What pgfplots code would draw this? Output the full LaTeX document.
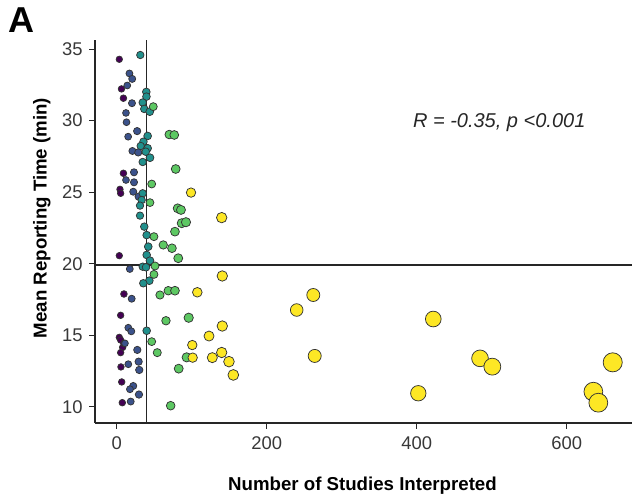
\documentclass[border=0pt]{standalone}
\usepackage{fontspec}
\setmainfont{Liberation Sans}
\usepackage{pgfplots}
\usepackage{pgfplotstable}
\pgfplotsset{compat=1.18}
\definecolor{vpurple}{HTML}{440154}
\definecolor{vblue}{HTML}{3B528B}
\definecolor{vteal}{HTML}{21908C}
\definecolor{vgreen}{HTML}{5DC863}
\definecolor{vyellow}{HTML}{FDE725}

% points grouped by colour class
\pgfplotstableread{
x y
3.5 34.29
6.4 32.22
9.0 31.57
9.0 26.32
4.4 25.20
5.3 24.92
3.5 20.56
9.7 17.88
5.3 16.39
3.5 14.85
5.3 14.66
8.0 14.15
5.3 13.78
9.7 14.43
5.7 12.78
6.7 11.73
7.5 10.28
}\purpletab
\pgfplotstableread{
x y
17.0 33.30
20.7 32.92
14.1 32.46
20.4 31.22
12.4 30.54
13.1 29.89
27.3 29.27
15.3 28.88
21.0 27.88
28.8 27.78
23.1 26.39
12.4 25.85
23.1 25.69
22.1 25.03
29.3 24.69
17.5 19.63
20.0 17.55
15.5 15.52
19.5 15.27
11.1 14.43
27.5 13.97
29.3 13.15
30.1 12.57
15.5 12.97
22.1 11.45
17.7 11.22
29.7 10.85
18.7 10.36
}\bluetab
\pgfplotstableread{
x y
31.5 34.59
39.5 32.01
39.7 31.68
34.7 31.27
36.8 30.82
44.1 30.63
41.3 28.93
35.7 28.53
32.0 28.23
41.3 28.07
38.7 27.83
44.4 27.41
34.7 27.11
34.7 24.92
33.3 24.45
31.1 24.06
31.1 23.36
36.8 22.59
40.0 22.00
42.1 21.19
40.0 20.61
44.4 20.21
34.7 19.79
39.1 19.75
43.5 18.81
35.5 18.63
40.0 15.31
}\tealtab
\pgfplotstableread{
x y
48.8 30.98
70.1 29.03
76.8 29.00
78.7 26.62
46.7 25.57
44.4 24.27
81.3 23.87
85.7 23.76
86.7 22.83
92.4 22.90
77.7 22.24
49.7 21.89
62.1 21.31
73.7 21.08
82.1 20.38
51.1 19.84
49.7 19.25
57.7 17.81
68.8 18.11
77.7 18.11
65.7 16.01
96.0 16.22
46.7 14.55
54.1 13.78
93.3 13.45
82.7 12.66
72.0 10.07
}\greentab
\pgfplotstableread{
x y
99.1 24.97
140.0 23.22
140.8 19.14
107.5 18.00
140.8 15.64
123.1 14.94
100.8 14.31
101.3 13.43
127.5 13.43
140.0 13.79
149.7 13.15
155.5 12.22
240.0 16.76
262.1 17.81
264.0 13.55
422.1 16.13
402.1 10.94
484.4 13.38
500.8 12.80
661.3 13.10
635.5 11.05
642.1 10.28
}\yellowtab

\pgfplotsset{
  dot/.style={scatter, only marks, mark=*, line width=0.55pt,
    scatter/use mapped color={draw=black!80, fill=#1},
    visualization depends on={sqrt(10+0.123*\thisrow{x})*0.75 \as \msize},
    scatter/@pre marker code/.append style={/tikz/mark size=\msize pt}}
}

\begin{document}
\begin{tikzpicture}
\useasboundingbox (-71.25pt,-54.75pt) rectangle (402.75pt,317.25pt);
\begin{axis}[
  at={(0,0)}, anchor=south west,
  scale only axis, width=402.75pt, height=287.25pt,
  xmin=-28.9, xmax=687, ymin=8.86, ymax=35.64,
  axis x line*=bottom, axis y line*=left,
  axis line style={black!85, line width=0.95pt, -},
  xtick={0,200,400,600}, ytick={10,15,20,25,30,35},
  tick align=outside, major tick length=4.3pt,
  tick style={black!85, line width=0.8pt},
  ticklabel style={font=\fontsize{13.8}{16}\selectfont, text=black!78},
  /pgf/number format/assume math mode=true,
  xticklabel style={yshift=-2.5pt},
  yticklabel style={xshift=-1.5pt},
]
\addplot[dot=vpurple] table {\purpletab};
\addplot[dot=vblue] table {\bluetab};
\addplot[dot=vteal] table {\tealtab};
\addplot[dot=vgreen] table {\greentab};
\addplot[dot=vyellow] table {\yellowtab};
\addplot[black!85, line width=0.95pt] coordinates {(40,8.86) (40,35.64)};
\addplot[black!85, line width=0.95pt] coordinates {(-28.9,19.9) (687,19.9)};
\node[font=\fontsize{15}{17}\selectfont\itshape, text=black!85] at (axis cs:510,29.84) {R = -0.35, p <0.001};
\end{axis}
\node[anchor=base west, inner sep=0pt, font=\fontsize{27}{30}\selectfont\bfseries] at (-65.25pt,292.5pt) {A};
\node[anchor=base, inner sep=0pt, font=\fontsize{14}{16}\selectfont\bfseries] at (200.6pt,-50.8pt) {Number of Studies Interpreted};
\node[anchor=base, rotate=90, inner sep=0pt, font=\fontsize{14}{16}\selectfont\bfseries] at (-36.2pt,153.75pt) {Mean Reporting Time (min)};
\end{tikzpicture}
\end{document}
